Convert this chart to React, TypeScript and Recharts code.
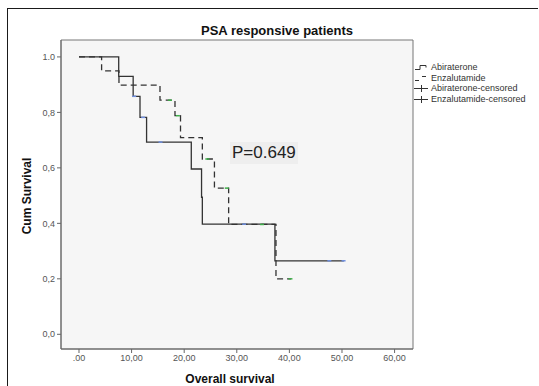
import React from 'react';
import {
  ComposedChart,
  Line,
  Scatter,
  XAxis,
  YAxis,
  CartesianGrid,
  ReferenceArea,
} from 'recharts';

// Kaplan-Meier steps
const abiTimes = [0, 7.55, 10.3, 11.6, 12.85, 21.35, 23.3, 23.45, 37.25, 50.35];
const abiSurv = [1, 0.93, 0.858, 0.782, 0.693, 0.596, 0.494, 0.397, 0.265, 0.265];
const enzTimes = [0, 4.3, 7.6, 15.4, 18.25, 19.3, 23.45, 25.75, 28.45, 37.45, 40.3];
const enzSurv = [1, 0.95, 0.898, 0.844, 0.788, 0.709, 0.632, 0.527, 0.396, 0.2, 0.2];

// censored cases
const abiCensTimes = [10.5, 12.2, 15.5, 31.4, 47.6, 50.3];
const abiCensSurv = [0.858, 0.782, 0.693, 0.397, 0.265, 0.265];
const enzCensTimes = [17.3, 18.8, 24.4, 28.1, 34.8, 40.2];
const enzCensSurv = [0.844, 0.788, 0.632, 0.527, 0.396, 0.2];

const xTicks = [0, 10, 20, 30, 40, 50, 60];
const xTickLabels = ['.00', '10,00', '20,00', '30,00', '40,00', '50,00', '60,00'];
const yTicks = [0, 0.2, 0.4, 0.6, 0.8, 1.0];
const yTickLabels = ['0,0', '0,2', '0,4', '0,6', '0,8', '1.0'];

const legendLabels = ['Abiraterone', 'Enzalutamide', 'Abiraterone-censored', 'Enzalutamide-censored'];

const X_DOMAIN: [number, number] = [-3.42, 63.5];
const Y_DOMAIN: [number, number] = [-0.053, 1.061];

const zip = (ts: number[], ss: number[]) => ts.map((t, i) => ({ t, s: ss[i] }));

const abiData = zip(abiTimes, abiSurv);
const enzData = zip(enzTimes, enzSurv);
const abiCens = zip(abiCensTimes, abiCensSurv);
const enzCens = zip(enzCensTimes, enzCensSurv);

const font = '"Liberation Sans", Arial, sans-serif';

const censorShape = (color: string) => (props: any) => {
  const { cx, cy } = props;
  return <rect x={cx - 2} y={cy - 0.75} width={4} height={1.5} fill={color} />;
};

function LegendSymbol({ idx }: { idx: number }) {
  const st = { stroke: '#333', strokeWidth: 1, fill: 'none' };
  return (
    <svg width={16} height={10} style={{ display: 'block', marginRight: 1 }}>
      {idx === 0 && <path d="M1 7.5 H6 V3.5 H12 V5.5" {...st} />}
      {idx === 1 && (
        <>
          <path d="M1 7.5 H5" {...st} />
          <path d="M8 3.5 H12" {...st} />
        </>
      )}
      {idx >= 2 && (
        <>
          <path d="M0 5.5 H14" {...st} />
          <path d="M7.5 2 V9" {...st} />
        </>
      )}
    </svg>
  );
}

function KmLegend() {
  return (
    <div
      style={{
        position: 'absolute',
        left: 414,
        top: 62,
        fontFamily: font,
        fontSize: 9,
        color: '#333',
      }}
    >
      {legendLabels.map((l, i) => (
        <div key={l} style={{ display: 'flex', alignItems: 'center', height: 10.5, whiteSpace: 'nowrap' }}>
          <LegendSymbol idx={i} />
          <span>{l}</span>
        </div>
      ))}
    </div>
  );
}

export default function App() {
  return (
    <div
      style={{
        position: 'absolute',
        left: 0,
        top: 0,
        width: 539,
        height: 386,
        background: '#fff',
        fontFamily: font,
        overflow: 'hidden',
      }}
    >
      <div
        style={{
          position: 'absolute',
          left: 7,
          top: 8,
          right: 1,
          bottom: -2,
          borderLeft: '1.5px solid #1a1a1a',
          borderTop: '1.5px solid #1a1a1a',
        }}
      />
      <div style={{ position: 'absolute', left: 0, top: 0 }}>
        <ComposedChart
          width={539}
          height={386}
          margin={{ top: 40, right: 126, bottom: 7, left: 21 }}
        >
          <CartesianGrid horizontal={false} vertical={false} fill="#f6f6f6" />
          <ReferenceArea
            x1={X_DOMAIN[0]}
            x2={X_DOMAIN[1]}
            y1={Y_DOMAIN[0]}
            y2={Y_DOMAIN[1]}
            fill="none"
            stroke="#777"
            strokeWidth={1}
            fillOpacity={0}
          />
          <XAxis
            dataKey="t"
            type="number"
            domain={X_DOMAIN}
            allowDataOverflow
            ticks={xTicks}
            tickFormatter={(v: number) => xTickLabels[xTicks.indexOf(v)] ?? ''}
            tick={{ fontSize: 9, fill: '#555', fontFamily: font }}
            tickSize={4}
            stroke="#666"
            height={30}
          />
          <YAxis
            dataKey="s"
            type="number"
            domain={Y_DOMAIN}
            allowDataOverflow
            ticks={yTicks}
            tickFormatter={(v: number) => yTickLabels[yTicks.indexOf(v)] ?? ''}
            tick={{ fontSize: 9, fill: '#555', fontFamily: font }}
            tickSize={4}
            stroke="#666"
            width={40}
          />
          <Line
            data={abiData}
            dataKey="s"
            name="Abiraterone"
            type="stepAfter"
            stroke="#333"
            strokeWidth={1.3}
            dot={false}
            activeDot={false}
            isAnimationActive={false}
          />
          <Line
            data={enzData}
            dataKey="s"
            name="Enzalutamide"
            type="stepAfter"
            stroke="#333"
            strokeWidth={1.3}
            strokeDasharray="6 4"
            dot={false}
            activeDot={false}
            isAnimationActive={false}
          />
          <Scatter
            data={abiCens}
            dataKey="s"
            name="Abiraterone-censored"
            shape={censorShape('#6f8fe0')}
            isAnimationActive={false}
          />
          <Scatter
            data={enzCens}
            dataKey="s"
            name="Enzalutamide-censored"
            shape={censorShape('#3fae4a')}
            isAnimationActive={false}
          />
        </ComposedChart>
      </div>

      <KmLegend />

      <div
        style={{
          position: 'absolute',
          left: 277,
          top: 30,
          transform: 'translate(-50%, -50%)',
          fontSize: 13,
          fontWeight: 'bold',
          color: '#111',
          whiteSpace: 'nowrap',
        }}
      >
        PSA responsive patients
      </div>
      <div
        style={{
          position: 'absolute',
          left: 27,
          top: 196,
          transform: 'translate(-50%, -50%) rotate(-90deg)',
          fontSize: 12,
          fontWeight: 'bold',
          color: '#111',
          whiteSpace: 'nowrap',
        }}
      >
        Cum Survival
      </div>
      <div
        style={{
          position: 'absolute',
          left: 230,
          top: 379,
          transform: 'translate(-50%, -50%)',
          fontSize: 12,
          fontWeight: 'bold',
          color: '#111',
          whiteSpace: 'nowrap',
        }}
      >
        Overall survival
      </div>
      <div
        style={{
          position: 'absolute',
          left: 230,
          top: 142,
          padding: '1px 2px',
          background: '#eeeeee',
          fontSize: 17,
          color: '#222',
          whiteSpace: 'nowrap',
          lineHeight: '20px',
        }}
      >
        P=0.649
      </div>
    </div>
  );
}
